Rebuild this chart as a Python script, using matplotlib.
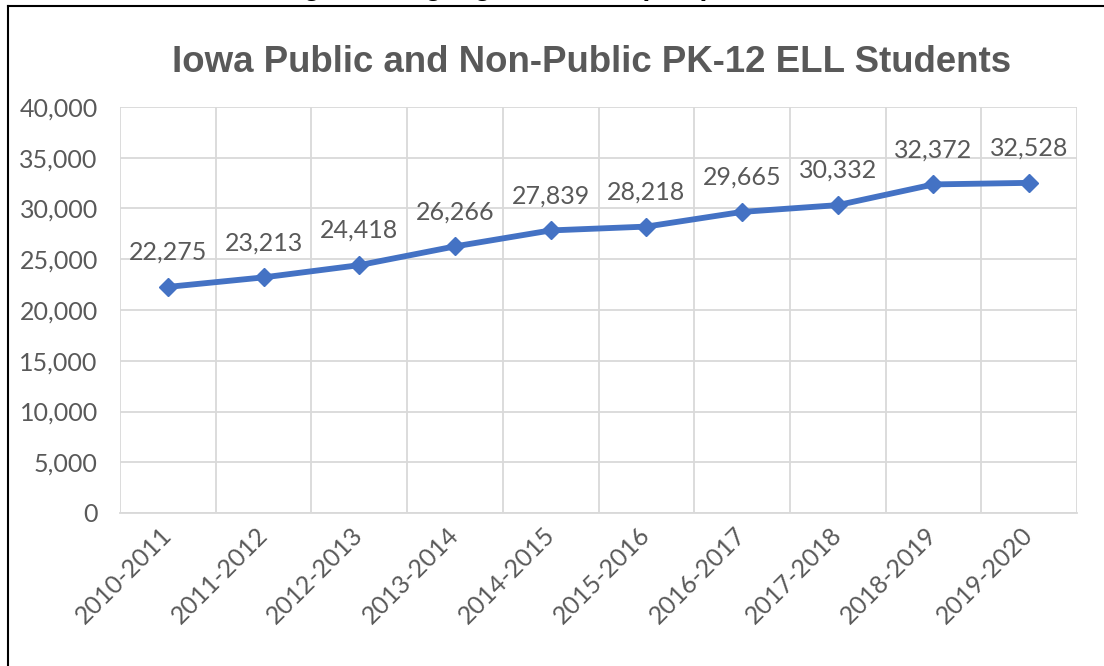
#!/usr/bin/env python3
"""
Iowa Public and Non-Public PK-12 ELL Students, Excel-style line chart.
"""

import matplotlib
matplotlib.use('Agg')
import matplotlib.pyplot as plt
from matplotlib.lines import Line2D
from matplotlib.ticker import FuncFormatter, FixedLocator

# Data
years = ['2010-2011', '2011-2012', '2012-2013', '2013-2014', '2014-2015',
         '2015-2016', '2016-2017', '2017-2018', '2018-2019', '2019-2020']
students = [22275, 23213, 24418, 26266, 27839, 28218, 29665, 30332, 32372, 32528]
y_ticks = [0, 5000, 10000, 15000, 20000, 25000, 30000, 35000, 40000]

title = 'Iowa Public and Non-Public PK-12 ELL Students'
caption = 'English Language Learners (ELL)'

text_grey = '#595959'
grid_grey = '#d9d9d9'
line_blue = '#4472C4'
label_font = 'Lato'

W, H = 1104, 666
fig = plt.figure(figsize=(W / 100, H / 100), dpi=100)
ax = fig.add_axes([120 / W, 1 - 513 / H, (1077 - 120) / W, (513 - 107) / H])

x = list(range(len(years)))
ax.plot(x, students, color=line_blue, linewidth=4.2, marker='D', markersize=9,
        markerfacecolor=line_blue, markeredgecolor=line_blue, solid_capstyle='round',
        zorder=3)

# data labels above each point
for xi, val in zip(x, students):
    ax.annotate(f'{val:,}', (xi, val), xytext=(0, 25), textcoords='offset points',
                ha='center', va='center', fontsize=18, color=text_grey,
                family=label_font, zorder=4)

ax.set_xlim(-0.5, len(years) - 0.5)
ax.set_ylim(0, 40000)

# horizontal grid at major y ticks, vertical grid between categories
ax.yaxis.set_major_locator(FixedLocator(y_ticks))
ax.yaxis.set_major_formatter(FuncFormatter(lambda v, p: f'{int(v):,}'))
ax.set_xticks(x)
ax.set_xticklabels(years)
ax.set_xticks([i - 0.5 for i in range(len(years) + 1)], minor=True)
ax.grid(True, axis='y', which='major', color=grid_grey, linewidth=1.3)
ax.grid(True, axis='x', which='minor', color=grid_grey, linewidth=1.3)
ax.set_axisbelow(True)

for s in ax.spines.values():
    s.set_visible(False)
ax.spines['bottom'].set_visible(True)
ax.spines['bottom'].set_color(grid_grey)
ax.spines['bottom'].set_linewidth(1.3)

ax.tick_params(axis='both', which='both', length=0)
ax.tick_params(axis='y', pad=16, labelsize=18, labelcolor=text_grey)
ax.tick_params(axis='x', pad=13, labelsize=18, labelcolor=text_grey)
for lbl in ax.get_yticklabels():
    lbl.set_family(label_font)
for lbl in ax.get_xticklabels():
    lbl.set_family(label_font)
    lbl.set_rotation(45)
    lbl.set_rotation_mode('anchor')
    lbl.set_ha('right')
    lbl.set_va('center')

# chart title
fig.text(592 / W, 1 - 63 / H, title, ha='center', va='center', fontsize=26.4,
         fontweight='bold', color=text_grey, family='Liberation Sans')

# caption above the frame, mostly cut off by the top edge
fig.text(268 / W, 1 + 5 / H, caption, ha='left', va='baseline', fontsize=20,
         fontweight='bold', color='black', family='Liberation Sans')

# frame: left and top border lines
fig.add_artist(Line2D([7.5 / W, 7.5 / W], [0, 1 - 5.5 / H], color='black',
                      linewidth=1.5, transform=fig.transFigure))
fig.add_artist(Line2D([7.5 / W, 1], [1 - 5.5 / H, 1 - 5.5 / H], color='black',
                      linewidth=1.5, transform=fig.transFigure))

fig.savefig('out.png', dpi=100)
